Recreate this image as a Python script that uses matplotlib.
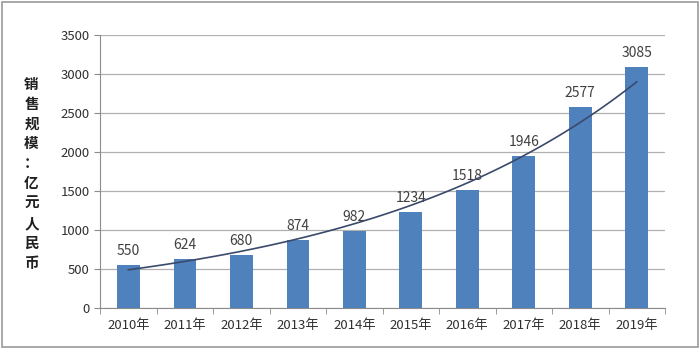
import numpy as np
import matplotlib.pyplot as plt

plt.rcParams['font.family'] = ['Noto Sans CJK SC', 'DejaVu Sans']

years = ['2010年', '2011年', '2012年', '2013年', '2014年',
         '2015年', '2016年', '2017年', '2018年', '2019年']
sales = [550, 624, 680, 874, 982, 1234, 1518, 1946, 2577, 3085]
ylabel_text = '销售规模：亿元人民币'

fig = plt.figure(figsize=(7, 3.5), dpi=100)
ax = fig.add_axes([0.143, 0.12, 0.807, 0.78])

x = np.arange(len(years))
ax.bar(x, sales, width=0.4, color='#4F81BD', zorder=3)

for xi, v in zip(x, sales):
    ax.text(xi, v + 90, str(v), ha='center', va='bottom', fontsize=10, color='#404040')

# exponential trendline fitted to the bars (like the Excel trendline)
b, a = np.polyfit(x, np.log(sales), 1)
xs = np.linspace(0, len(years) - 1, 100)
ax.plot(xs, np.exp(a + b * xs), color='#3b4a6b', lw=1.2, zorder=4)

ax.set_xlim(-0.5, len(years) - 0.5)
ax.set_ylim(0, 3500)
ax.set_yticks(range(0, 3501, 500))
ax.set_xticks(x)
ax.set_xticklabels(years, fontsize=9.5, color='#303030')
ax.set_xticks(np.arange(-0.5, len(years)), minor=True)
ax.tick_params(axis='x', which='major', length=0, pad=8)
ax.tick_params(axis='x', which='minor', length=4, color='#8c8c8c')
ax.tick_params(axis='y', length=4, color='#8c8c8c', labelsize=9.5, labelcolor='#303030')

ax.grid(axis='y', color='#b0b0b0', lw=0.9, zorder=0)
for s in ['top', 'right']:
    ax.spines[s].set_visible(False)
for s in ['left', 'bottom']:
    ax.spines[s].set_color('#8c8c8c')

fig.text(0.045, 0.505, '\n'.join(ylabel_text), ha='center', va='center',
         fontsize=10.5, fontweight='bold', linespacing=1.3, color='#202020')

# outer frame
fig.patches.append(plt.Rectangle((0.003, 0.01), 0.994, 0.985, transform=fig.transFigure,
                                 fill=False, edgecolor='#9a9a9a', lw=1.2))

fig.savefig('out.png', dpi=100)
